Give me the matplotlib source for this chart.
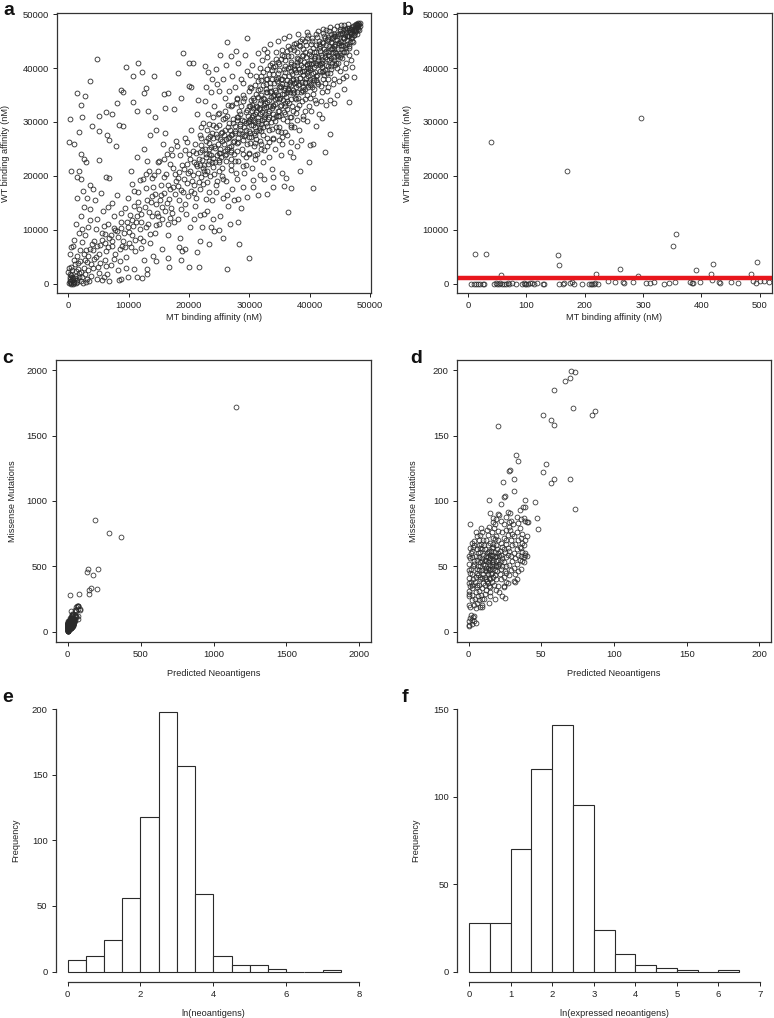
import matplotlib
matplotlib.use("Agg")
import matplotlib.pyplot as plt

plt.rcParams['font.family'] = ['Liberation Sans', 'DejaVu Sans']

# ---------------- data ----------------
# panel a: (MT, WT) binding affinity, in thousands of nM
points_a = [
    # outliers above diagonal
    (4.8,41.6),(3.5,37.6),(0.1,26.2),(0.3,30.6),(1.5,35.4),(2.0,33.1),(2.8,34.9),(2.3,31.0),(5.1,31.2),
    (3.9,29.3),(5.1,28.3),(1.8,28.2),(1.0,25.9),(2.1,24.1),(2.5,23.2),(2.9,22.5),(5.1,23.0),(0.4,20.9),
    (1.8,20.9),(1.4,19.8),(9.5,40.2),(11.6,41.0),(12.2,39.3),(10.7,38.5),(12.8,36.3),(12.5,35.4),(8.7,35.9),
    (9.1,35.5),(8.0,33.5),(6.3,31.8),(7.3,31.5),(8.4,29.5),(9.0,29.3),(6.4,27.5),(6.8,26.6),(7.9,25.6),
    (6.2,19.8),(6.7,19.7),(10.7,33.7),(11.4,32.0),(13.2,32.0),(14.4,31.0),(19.0,42.8),(20.0,41.0),(20.7,41.0),
    (18.1,39.0),(14.2,38.6),(15.9,35.2),(16.5,35.4),(18.7,34.4),(20.0,36.7),(20.4,36.4),(17.5,32.4),(16.0,32.6),
    (26.3,44.8),(29.6,45.6),(27.8,43.1),(25.1,42.5),(27.0,42.2),(32.9,43.0),(36.6,45.9),(38.1,46.4),(39.5,46.7),
    (22.6,40.4),(23.2,39.3),(24.4,39.9),
    # outliers below diagonal
    (30.0,4.8),(26.3,2.8),(20.0,3.1),(16.7,3.1),(18.7,4.4),(21.6,3.2),(36.4,13.4),(35.8,18.1),(37.0,17.8),
    (40.5,17.8),(42.6,24.4),(39.9,22.6),(43.4,27.8),(46.6,33.7),(47.4,38.3),(40.6,26.0),(40.0,25.7),(35.5,20.6),
    (34.0,19.8),(36.1,19.6),(31.8,20.1),(30.7,19.2),(28.2,11.5),(28.3,7.3),(24.1,9.8),(24.9,9.9),(25.7,8.5),
    (23.3,7.3),(21.8,8.0),(21.3,5.9),(19.3,6.5),(18.4,6.9),(14.6,4.3),(13.0,2.7),(13.1,1.8),(11.4,1.3),
    (9.8,1.3),(8.4,0.7),(5.9,1.3),(21.9,12.8),(26.3,16.4),(27.4,15.5),(28.2,15.8),(29.6,16.1),(32.9,16.7),
    (34.0,18.0),(38.4,21.0),(37.3,23.5),
    # near origin
    (0.1,0.1),(0.3,0.5),(0.5,0.2),(0.8,1.0),(1.0,0.3),(1.2,1.5),(0.2,1.8),(0.6,2.5),(1.5,0.8),(1.8,2.0),
    (0.4,3.2),(1.1,3.6),(2.0,0.5),(2.2,1.2),(0.9,4.5),(0.2,5.5),(1.6,2.8),(2.5,3.0),(0.3,0.9),(0.7,0.0),
    (1.3,0.1),(0.0,2.2),(2.8,1.8),(0.5,6.8),(1.9,4.2),(2.4,0.2),(3.0,0.9),(1.4,5.2),(0.8,7.0),(3.2,2.6),
    (0.2,0.3),(0.4,0.0),(0.6,0.7),(0.9,0.1),(1.1,1.1),(0.3,1.3),(0.5,1.6),(1.4,0.4),(1.7,1.2),(0.1,2.9),
    (0.6,1.2),(1.2,2.4),(1.6,3.9),(2.1,2.2),(2.7,4.4),(3.2,5.1),(3.7,3.6),(4.1,6.2),(4.7,7.0),(5.1,5.6),
    (5.6,8.2),(6.1,9.2),(6.6,6.9),(7.2,8.0),(7.7,9.9),(8.2,8.6),(8.7,10.4),(9.2,9.4),(9.7,11.4),(4.9,3.1),
    (6.3,3.3),(7.6,4.6),(8.9,7.1),(3.4,0.6),(4.7,0.9),(2.9,0.3),(1.9,6.2),(1.0,8.2),(2.3,10.2),(3.6,11.8),
    # 2-10k
    (2.5,5.5),(3.0,4.0),(3.5,6.5),(4.0,3.0),(4.2,8.0),(4.5,5.0),(5.0,2.0),(5.2,7.2),(5.5,9.5),(6.0,4.5),
    (6.2,6.0),(6.5,11.0),(6.8,8.5),(7.0,3.5),(7.3,7.0),(7.5,12.5),(7.8,5.5),(8.0,9.8),(8.3,2.5),(8.5,6.5),
    (8.8,11.5),(9.0,8.0),(9.3,14.0),(9.5,5.0),(9.8,10.5),(10.0,7.5),(10.2,12.8),(2.8,9.0),(3.3,10.5),(3.8,1.5),
    (4.8,12.0),(5.8,13.5),(6.4,1.8),(7.2,15.0),(8.1,16.5),(9.6,3.0),(3.6,13.8),(4.4,15.5),(5.4,16.8),(2.2,7.8),
    (1.7,9.5),(1.2,11.0),(2.0,12.5),(2.6,14.2),(1.5,15.9),(2.4,17.2),(3.1,16.0),(4.0,17.5),(3.5,18.3),(2.0,19.5),
    (5.5,0.8),(6.8,0.5),(8.8,0.9),(4.6,10.2),(5.9,10.8),(6.6,14.3),(7.6,10.3),(8.7,13.2),(9.9,16.0),(10.5,18.5),
    (2.9,6.3),(3.9,7.4),(4.3,4.6),(5.3,3.8),(6.1,7.6),(7.1,9.1),(8.6,4.2),(9.4,6.9),
    # 10-20k
    (10.5,9.0),(10.8,14.5),(11.0,6.0),(11.2,11.5),(11.5,17.0),(11.8,8.5),(12.0,13.0),(12.3,19.5),(12.5,4.5),
    (12.8,10.5),(13.0,15.5),(13.3,21.0),(13.5,7.5),(13.8,12.5),(14.0,18.0),(14.3,9.5),(14.5,14.8),(14.8,22.5),
    (15.0,11.0),(15.3,16.5),(15.5,6.5),(15.8,19.8),(16.0,13.5),(16.3,24.0),(16.5,9.0),(16.8,17.5),(17.0,14.0),
    (17.3,21.5),(17.5,11.5),(17.8,19.0),(18.0,25.5),(18.3,15.5),(18.5,8.5),(18.8,22.0),(19.0,17.0),(19.3,27.0),
    (19.5,13.0),(19.8,20.5),(20.0,24.0),(20.2,10.5),(10.3,21.0),(11.3,23.5),(12.6,25.0),(13.6,27.5),(14.6,28.5),
    (10.9,2.8),(12.2,1.0),(14.1,5.2),(16.6,4.8),(18.9,6.0),(11.6,15.2),(12.9,17.8),(14.2,20.2),(15.1,22.8),
    (16.2,20.3),(17.2,23.8),(18.1,18.2),(19.6,22.2),(13.2,11.0),(15.6,14.2),(16.9,12.2),(18.6,13.8),(19.9,16.2),
    (10.6,11.9),(11.9,10.2),(13.9,16.2),(15.4,18.4),(17.6,16.6),(19.2,19.4),(14.9,12.5),(12.4,8.0),(16.4,15.0),
    (18.4,20.8),(17.9,26.5),(19.4,24.8),(15.7,26.0),(16.1,28.0),(13.1,22.8),
    (10.1,9.6),(10.7,10.8),(11.4,12.6),(11.7,13.9),(12.1,11.4),(12.7,14.2),(13.4,13.4),(13.7,15.1),(14.4,16.6),
    (14.7,13.2),(15.2,15.6),(15.9,16.9),(16.5,18.4),(16.7,15.8),(17.4,17.9),(17.7,20.4),(18.2,19.6),(18.7,17.3),
    (19.1,21.3),(19.7,18.6),(10.4,6.8),(11.1,8.2),(12.1,6.6),(13.6,9.2),(14.5,10.9),(15.5,12.0),(16.6,11.0),
    (17.2,13.2),(18.2,12.1),(19.3,14.8),(10.8,17.2),(11.8,19.2),(12.9,20.4),(13.8,19.6),(14.9,21.0),(15.9,23.2),
    (17.0,25.0),(18.5,23.9),(19.7,26.2),(16.9,22.2),
    # 20-30k
    (20.5,19.0),(20.8,22.5),(21.0,26.0),(21.2,16.0),(21.5,20.5),(21.8,24.5),(22.0,29.0),(22.3,18.5),(22.5,22.0),
    (22.8,26.5),(23.0,13.5),(23.3,24.0),(23.5,20.0),(23.8,28.0),(24.0,31.0),(24.3,22.5),(24.5,17.0),(24.8,26.0),
    (25.0,29.5),(25.3,23.5),(25.5,20.0),(25.8,27.5),(26.0,32.0),(26.3,25.0),(26.5,14.5),(26.8,28.5),(27.0,22.0),
    (27.3,30.5),(27.5,26.5),(27.8,33.5),(28.0,19.5),(28.3,28.0),(28.5,31.5),(28.8,25.0),(29.0,35.0),(29.3,27.5),
    (29.5,22.0),(29.8,30.0),(30.0,33.0),(20.3,28.5),(21.4,31.5),(22.6,33.8),(23.6,35.5),(24.6,37.0),(25.6,38.0),
    (20.9,12.0),(22.1,10.5),(23.9,15.5),(25.2,12.5),(27.1,17.5),(28.9,18.0),(20.1,21.0),(20.7,24.6),(21.1,22.3),
    (21.7,18.8),(22.2,24.8),(22.7,20.4),(23.1,27.0),(23.4,22.8),(23.7,25.3),(24.1,20.3),(24.4,27.8),(24.9,24.2),
    (25.1,26.8),(25.4,21.5),(25.7,30.5),(26.1,22.8),(26.4,27.0),(26.6,29.8),(26.9,24.4),(27.2,27.8),(27.4,24.0),
    (27.7,29.2),(27.9,31.0),(28.2,26.2),(28.4,29.6),(28.7,33.0),(29.1,29.0),(29.4,31.8),(29.7,26.0),(29.9,28.3),
    (21.9,27.5),(22.4,29.9),(23.2,31.5),(24.2,33.0),(25.9,34.5),(26.7,35.8),(27.6,36.5),(28.6,38.0),(29.6,39.5),
    (20.4,17.2),(22.9,15.8),(24.7,19.0),(26.2,19.0),(28.1,22.8),(29.2,20.5),
    (20.6,20.2),(21.3,21.9),(21.6,23.1),(22.4,21.4),(22.9,23.6),(23.4,24.9),(23.8,22.6),(24.2,25.6),(24.6,23.9),
    (25.1,25.0),(25.5,26.4),(25.9,24.6),(26.2,26.9),(26.6,25.4),(27.0,27.6),(27.3,26.2),(27.7,28.4),(28.1,27.0),
    (28.4,29.2),(28.8,27.7),(29.1,30.1),(29.5,28.6),(29.8,31.2),(20.9,18.4),(22.0,25.8),(23.0,21.0),(24.0,27.0),
    (25.0,22.6),(26.0,28.6),(27.0,24.8),(28.0,30.4),(29.0,26.6),
    (21.5,34.0),(22.8,36.5),(23.9,37.9),(25.0,35.8),(26.2,40.5),(27.2,38.5),(28.2,41.0),(29.3,42.4),(27.9,34.5),
    (26.4,33.1),(24.8,31.4),(23.4,29.6),(29.0,37.2),(21.0,14.4),(22.5,13.0),(24.0,12.0),(25.6,16.0),(27.8,20.5),
    (29.4,23.5),(28.6,14.0),(26.8,11.0),(23.6,10.5),
    (22.2,22.9),(22.5,20.9),(22.8,24.1),(23.1,22.2),(23.4,26.1),(23.7,23.8),(24.0,21.7),(24.3,25.2),(24.6,27.3),
    (24.9,22.9),(25.2,24.3),(25.5,28.2),(25.8,25.9),(26.1,24.0),(26.4,29.1),(26.7,27.2),(27.0,25.6),(27.3,29.9),
    (27.6,27.9),(27.9,26.1),(28.2,30.9),(28.5,28.6),(28.8,30.3),(29.1,27.4),(29.4,29.8),(29.7,32.2),
    (22.0,27.0),(23.0,28.6),(24.0,29.4),(25.0,31.6),(26.0,30.8),(27.0,32.9),(28.0,34.2),(29.0,33.8),
    (22.0,19.8),(23.0,18.8),(24.0,23.3),(25.0,21.0),(26.0,23.9),(27.0,23.2),(28.0,24.6),(29.0,24.1),
    (20.2,23.2),(21.2,24.2),(21.8,22.0),(22.7,25.0),(23.5,27.4),(24.5,29.1),(25.3,27.9),(26.3,31.1),(27.2,33.2),
    (28.3,32.0),(29.2,34.4),(20.8,16.8),(21.9,17.6),(23.3,17.0),(24.4,18.3),(25.7,19.4),(26.9,21.1),(27.6,22.7),
    (28.9,21.8),(29.9,24.1),
    # 30-40k
    (30.2,28.0),(30.4,31.0),(30.6,34.5),(30.8,25.5),(31.0,30.0),(31.2,33.0),(31.4,36.0),(31.6,28.5),(31.8,31.5),
    (32.0,35.0),(32.2,22.5),(32.4,30.5),(32.6,33.5),(32.8,37.0),(33.0,27.0),(33.2,32.0),(33.4,35.5),(33.6,30.0),
    (33.8,38.0),(34.0,33.0),(34.2,36.0),(34.4,29.0),(34.6,34.5),(34.8,39.0),(35.0,32.0),(35.2,36.5),(35.4,26.0),
    (35.6,34.0),(35.8,38.5),(36.0,31.5),(36.2,35.5),(36.4,40.0),(36.6,33.5),(36.8,37.5),(37.0,29.5),(37.2,36.0),
    (37.4,40.5),(37.6,34.5),(37.8,38.0),(38.0,32.5),(38.2,37.0),(38.4,41.5),(38.6,35.5),(38.8,39.5),(39.0,30.5),
    (39.2,37.5),(39.4,42.0),(39.6,35.0),(39.8,40.0),(40.0,38.0),(30.1,36.5),(30.5,21.5),(31.1,38.5),(31.7,40.0),
    (32.1,41.5),(32.9,42.0),(33.7,41.0),(34.5,43.0),(35.5,42.5),(36.5,44.0),(37.5,44.5),(38.5,45.0),(39.5,45.5),
    (31.3,24.0),(33.3,23.5),(34.3,25.0),(36.3,27.5),(38.3,28.5),(39.3,32.0),(30.3,29.5),(30.7,32.5),(30.9,27.5),
    (31.5,31.0),(31.9,34.0),(32.3,29.0),(32.5,32.5),(32.7,35.5),(33.1,30.5),(33.5,33.0),(33.9,31.5),(34.1,35.0),
    (34.7,32.0),(34.9,36.5),(35.1,34.5),(35.3,38.0),(35.7,36.0),(35.9,33.0),(36.1,37.0),(36.7,35.5),(36.9,39.5),
    (37.1,33.0),(37.3,38.0),(37.7,36.5),(37.9,40.5),(38.1,34.5),(38.7,37.5),(38.9,36.5),(39.1,39.5),(39.7,38.5),
    (39.9,41.0),(30.4,33.2),(31.4,29.8),(32.4,34.2),(33.4,37.2),(34.4,31.2),(35.4,35.2),(36.4,36.2),(37.4,37.2),
    (38.4,39.2),(39.4,38.2),(30.6,30.4),(31.6,32.6),(32.6,31.4),(33.6,34.6),(34.6,37.6),(35.6,30.6),(36.6,38.6),
    (37.6,39.6),(38.6,40.6),(39.6,40.6),(31.8,26.4),(33.2,28.6),(34.8,28.4),(36.2,30.2),(37.8,31.6),(39.2,34.2),
    (30.0,24.2),(32.0,26.0),(35.0,29.0),(37.0,31.0),(38.0,43.0),(36.0,41.5),(34.0,40.2),(32.0,38.6),(33.0,39.8),
    (35.0,40.8),(37.0,42.2),(39.0,43.6),
    (30.1,30.6),(30.3,27.2),(30.5,32.1),(30.7,29.4),(30.9,31.4),(31.1,28.3),(31.3,32.8),(31.5,30.2),(31.7,33.6),
    (31.9,29.6),(32.1,31.9),(32.3,34.5),(32.5,30.9),(32.7,32.8),(32.9,35.6),(33.1,31.7),(33.3,34.1),(33.5,36.4),
    (33.7,32.6),(33.9,34.9),(34.1,37.2),(34.3,33.4),(34.5,35.6),(34.7,38.1),(34.9,34.3),(35.1,36.6),(35.3,33.1),
    (35.5,37.9),(35.7,35.1),(35.9,39.2),(36.1,34.6),(36.3,37.8),(36.5,35.9),(36.7,40.1),(36.9,36.8),(37.1,38.9),
    (37.3,35.4),(37.5,39.8),(37.7,37.4),(37.9,41.2),(38.1,36.9),(38.3,39.9),(38.5,38.1),(38.7,42.2),(38.9,38.8),
    (39.1,41.1),(39.3,37.3),(39.5,40.8),(39.7,39.4),(39.9,42.6),
    (30.2,32.9),(30.8,34.1),(31.2,35.1),(31.8,36.1),(32.2,36.9),(32.8,38.0),(33.2,38.9),(33.8,39.6),(34.2,40.3),
    (34.8,41.2),(35.2,41.6),(35.8,42.3),(36.2,43.1),(36.8,43.6),(37.2,43.9),(37.8,44.6),(38.2,44.2),(38.8,45.3),
    (39.2,45.1),(39.8,46.1),
    (30.2,26.1),(30.8,27.9),(31.2,26.8),(31.8,28.9),(32.2,27.6),(32.8,29.9),(33.2,26.3),(33.8,28.7),(34.2,30.1),
    (34.8,31.1),(35.2,28.2),(35.8,31.9),(36.2,32.4),(36.8,30.9),(37.2,32.1),(37.8,34.2),(38.2,33.2),(38.8,33.9),
    (39.2,36.1),(39.8,36.4),(31.0,23.2),(32.5,24.8),(34.0,26.9),(35.5,27.3),(37.5,29.1),(39.5,30.2),(36.9,26.2),
    (38.6,26.7),(30.5,40.6),(31.5,42.8),(32.5,43.5),(33.5,44.4),(34.7,45.1),(35.8,45.5),(30.2,38.8),
    (30.6,18.0),(32.5,19.5),(33.8,21.2),(35.2,23.8),(36.8,24.4),(38.0,25.6),(31.5,16.5),
    (30.0,30.1),(30.3,34.0),(30.6,31.3),(30.9,29.0),(31.2,31.8),(31.5,34.6),(31.8,32.4),(32.1,30.3),(32.4,33.1),
    (32.7,36.1),(33.0,33.7),(33.3,30.9),(33.6,35.8),(33.9,33.1),(34.2,34.3),(34.5,37.9),(34.8,35.0),(35.1,32.9),
    (35.4,37.1),(35.7,39.9),(36.0,36.3),(36.3,33.8),(36.6,37.0),(36.9,40.8),(37.2,37.7),(37.5,35.6),(37.8,39.2),
    (38.1,41.7),(38.4,38.1),(38.7,35.9),(39.0,40.1),(39.3,42.9),(39.6,39.0),(39.9,37.4),
    (30.0,35.7),(31.0,36.9),(32.0,37.7),(33.0,38.0),(34.0,38.9),(35.0,39.6),(36.0,40.4),(37.0,41.2),(38.0,41.8),
    (39.0,42.4),(30.0,27.2),(31.0,26.1),(32.0,28.3),(33.0,29.3),(34.0,30.7),(35.0,31.2),(36.0,33.6),(37.0,34.3),
    (38.0,35.6),(39.0,35.8),(30.3,36.3),(31.4,37.6),(32.3,39.2),(33.4,40.6),(34.4,41.7),(35.4,43.4),(36.4,42.3),
    (37.4,43.3),(38.4,44.1),(39.4,44.2),(30.9,23.9),(31.9,25.0),(32.9,25.6),(33.9,27.1),(34.9,26.6),(35.9,28.1),
    (36.9,29.0),(37.9,30.3),(38.9,31.1),(39.9,33.0),
    # 40-48.5k
    (40.2,41.5),(40.4,36.5),(40.6,39.0),(40.8,43.0),(41.0,40.5),(41.2,37.5),(41.4,42.0),(41.6,44.5),(41.8,39.5),
    (42.0,41.5),(42.2,38.0),(42.4,43.5),(42.6,45.5),(42.8,40.5),(43.0,42.5),(43.2,44.0),(43.4,39.0),(43.6,43.5),
    (43.8,45.5),(44.0,42.0),(44.2,44.5),(44.4,41.0),(44.6,46.0),(44.8,43.5),(45.0,45.0),(45.2,42.5),(45.4,46.5),
    (45.6,44.0),(45.8,45.5),(46.0,47.0),(46.2,44.5),(46.4,46.0),(46.6,47.5),(46.8,45.5),(47.0,46.8),(47.2,47.8),
    (47.4,46.2),(47.6,47.5),(47.8,48.0),(48.0,47.3),(48.2,48.2),(48.3,47.8),(40.1,34.5),(41.1,33.5),(42.1,35.5),
    (43.1,36.5),(44.1,38.0),(45.1,39.5),(46.1,41.0),(40.3,44.5),(41.3,45.8),(42.3,46.5),(43.3,46.8),(40.5,41.0),
    (40.7,37.8),(40.9,42.2),(41.5,40.8),(41.7,43.2),(41.9,41.0),(42.5,42.0),(42.7,44.2),(42.9,39.0),(43.5,41.8),
    (43.7,44.6),(43.9,43.0),(44.3,43.0),(44.5,45.2),(44.7,42.2),(45.3,44.2),(45.5,45.8),(45.7,43.0),(45.9,46.2),
    (46.3,45.2),(46.5,43.8),(46.7,46.6),(46.9,47.2),(47.1,45.8),(47.3,47.0),(47.5,46.6),(47.7,48.2),(47.9,47.6),
    (40.0,40.0),(41.0,41.0),(42.0,42.0),(43.0,43.0),(44.0,44.0),(40.6,35.2),(42.6,37.2),(44.6,40.0),(46.6,42.5),
    (43.4,34.0),(45.6,38.2),
    (40.1,39.6),(40.3,42.3),(40.5,38.2),(40.7,41.8),(40.9,39.2),(41.1,42.9),(41.3,38.8),(41.5,43.8),(41.7,40.6),
    (41.9,42.5),(42.1,40.1),(42.3,44.6),(42.5,39.7),(42.7,43.1),(42.9,41.6),(43.1,45.3),(43.3,42.2),(43.5,44.9),
    (43.7,41.0),(43.9,45.8),(44.1,43.5),(44.3,45.9),(44.5,42.4),(44.7,46.4),(44.9,44.6),(45.1,46.8),(45.3,43.6),
    (45.5,47.1),(45.7,45.6),(45.9,44.3),(46.1,46.6),(46.3,47.4),(46.5,45.9),(46.7,44.9),(46.9,46.4),(47.1,47.6),
    (47.3,46.2),(47.5,47.9),(47.7,47.0),(47.9,48.1),(48.1,47.6),(48.2,47.1),(48.3,48.3),(48.1,48.4),
    (40.2,37.0),(40.8,36.2),(41.4,37.0),(41.9,36.6),(42.4,38.8),(43.0,38.0),(43.6,39.8),(44.2,40.5),(44.8,41.0),
    (45.4,41.8),(46.0,42.9),(46.6,44.1),(47.2,44.9),(47.8,46.3),(40.4,45.6),(41.0,46.3),(41.6,45.1),(42.2,47.2),
    (42.8,47.0),(43.4,47.6),(44.0,47.2),(44.6,47.8),(45.2,47.9),(45.8,48.0),(46.4,48.1),
    (40.2,32.0),(41.5,31.5),(42.8,33.2),(44.5,35.0),(45.8,36.2),(47.0,40.2),(46.0,38.5),(44.0,33.6),(42.0,30.8),
    (41.0,29.2),
    (40.2,40.7),(40.5,43.7),(40.8,40.1),(41.1,38.6),(41.4,41.4),(41.7,44.0),(42.0,40.9),(42.3,39.4),(42.6,42.9),
    (42.9,45.2),(43.2,41.5),(43.5,40.4),(43.8,43.7),(44.1,46.0),(44.4,42.7),(44.7,44.7),(45.0,46.3),(45.3,44.9),
    (45.6,42.9),(45.9,47.3),(46.2,45.9),(46.5,47.1),(46.8,46.3),(47.1,47.2),(47.4,47.3),(47.7,46.8),(48.0,48.0),
    (40.0,43.1),(41.0,44.2),(42.0,44.9),(43.0,45.8),(44.0,46.3),(45.0,47.2),(40.0,36.9),(41.0,37.8),(42.0,39.2),
    (43.0,40.3),(44.0,41.5),(45.0,42.0),(46.0,43.9),(47.0,45.1),(40.4,45.0),(41.4,46.9),(42.4,45.9),(43.6,46.3),
    (40.9,34.1),(41.9,33.9),(42.9,35.8),(43.9,37.0),(44.9,37.6),(45.9,40.0),(46.9,41.5),(47.7,43.0),
]

# panel b: MT < 500 nM subset
mt_b = [5, 10, 13, 17, 20, 25, 27, 12.5, 30, 39, 45, 48, 50, 53, 55, 57, 58, 62, 65, 68, 70, 75, 82, 92,
        95, 97, 100, 103, 106, 110, 113, 118, 128, 130, 154, 156, 155, 162, 165, 170, 175, 178, 182, 196,
        207, 211, 213, 215, 218, 220, 222, 240, 252, 260, 265, 268, 283, 292, 296, 305, 312, 318, 336, 344,
        351, 354, 356, 380, 384, 386, 390, 398, 416, 418, 420, 430, 432, 450, 462, 485, 488, 494, 495, 500,
        508, 516]
wt_b = [0, 0, 0, 0, 0, 0, 0, 5600, 5600, 26200, 0, 100, 0, 50, 100, 1600, 0, 0, 50, 100, 0, 150, 0, 0,
        100, 0, 50, 0, 100, 200, 0, 150, 0, 50, 5400, 3500, 0, 0, 100, 20900, 200, 300, 0, 0,
        0, 0, 50, 0, 100, 1850, 0, 500, 400, 2800, 300, 200, 300, 1500, 30700, 100, 200, 300, 0, 200,
        7000, 300, 9300, 400, 100, 200, 2500, 300, 1800, 700, 3600, 300, 100, 300, 200, 1800, 500, 100, 4000, 600,
        500, 300]
threshold_b = 1000

# panels c/d: (predicted neoantigens, missense mutations) per tumour
points_cd = [
    (70.7,199.2),(69.8,193.9),(58.8,184.9),(71.8,170.9),(86.9,169.1),(51.5,166.0),(56.8,162.2),(20.1,157.1),
    (32.6,134.9),(34.2,131.0),(52.9,128.0),(51.5,122.1),(28.5,123.6),(28.1,122.9),(58.8,117.2),(56.8,113.9),
    (69.8,117.0),(73.0,94.0),(31.0,117.0),(23.9,114.2),(31.2,107.3),(25.1,104.0),(24.2,103.2),(13.9,101.1),
    (22.1,97.5),(45.5,99.1),(47.0,87.1),(47.9,78.9),(38.8,101.1),(38.5,95.3),(37.6,95.3),(40.6,84.0),
    (26.9,91.2),(0.9,82.2),(22.8,27.3),(24.6,35.0),(5.0,6.9),(0,4.3),
    (0,5),(0.5,8),(1,10),(1.5,13),(2,6),(2.5,9),(3,11),(3.5,8),(4,12),(0.5,20),(1,19),(0,27),(0.5,31),(1,35),
    (0,37),(1.5,38),(0.5,41),(1,45),(0,47),(1.5,48),(0.5,52),(1,56),(0,58),(1.5,60),(2,62),(1,64),(0.5,29),
    (2,24),(2.5,28),(2,33),(2.5,36),(3,40),(2.5,44),(3,50),(3.5,54),(2.5,57),(3,65),(2,68),(3.5,66),(4,69),
    (4,20),(4.5,25),(5,18),(5,30),(5.5,34),(4.5,38),(5,42),(6,45),(5.5,48),(4,52),(6,55),(5,58),(6.5,60),
    (5.5,63),(6,22),(6.5,27),(7,31),(7,36),(7.5,40),(6.5,43),(7,47),(8,50),(7.5,53),(7,57),(8,61),(7.5,64),
    (8.5,67),(7,70),(8,74),(9,76),(8.5,79),(9,20),(9.5,25),(8.5,28),(9,33),(10,37),(9.5,41),(10,44),(9,47),
    (10,52),(9.5,56),(10,59),(9,63),(10.5,66),(10,70),(6,73),(5,76),(9,19),(8,19),(7,24),(6,36),(8,42),
    (9,54),(7,66),(6.5,50),
    (10.5,25),(11,29),(12,32),(11,36),(12.5,39),(11.5,42),(12,46),(13,49),(11,51),(12,54),(13.5,57),(12.5,60),
    (11.5,63),(13,66),(12,70),(13,74),(12.5,78),(14,80),(14,22),(15,27),(14.5,30),(15,34),(16,38),(14,41),
    (15.5,44),(16,48),(14.5,51),(16,53),(15,56),(17,59),(15.5,62),(16.5,65),(15,68),(17,72),(16,76),(17.5,79),
    (16.5,84),(17,87),(15,91),(18,25),(18.5,32),(17.5,36),(19,40),(18,43),(19.5,46),(18.5,50),(19,54),(18,57),
    (20,60),(19.5,63),(18.5,66),(20,70),(19,73),(20.5,77),(18,82),(19,86),(20,90),(21,89),(13,44),(14,47),
    (12,58),(17,52),(16,45),(13,53),(18,61),(15,59),(11,47),(14,62),(17,55),(16,50),(19,58),(12,40),(20,50),
    (13,37),(17,42),(15,48),(18,47),(14,55),(16,58),(19,51),(11,55),(12,49),(13,61),(14,35),(15,40),(16,64),
    (17,67),(18,71),(20,55),
    (21,30),(20.5,35),(22,40),(21.5,44),(22,48),(21,52),(23,56),(22,59),(21.5,62),(23,65),(22.5,68),(24,72),
    (23,76),(24.5,82),(22,85),(25,26),(24,34),(25.5,38),(24,42),(25,46),(26,50),(24.5,53),(26,57),(25,61),
    (27,64),(26,67),(25.5,70),(27,74),(26,78),(28,80),(27.5,84),(26,88),(28.5,91),(27,37),(28,43),(29,47),
    (28,51),(30,54),(29,58),(28,62),(30,66),(29,70),(30,75),(28.5,78),(30.5,82),(29,85),(27,59),(23,50),
    (21,58),(24,63),(26,45),(22,54),
    (31,39),(32,44),(31,49),(33,52),(32,56),(31,60),(33,63),(32,67),(34,70),(31,73),(33,76),(35,79),(34,83),
    (33,88),(36,86),(35,93),(34,59),(35,55),(36,58),(37,61),(36,64),(38,57),(39,60),(37,54),(38,53),(39,59),
    (40,58),(38,66),(39,70),(40,73),(37,75),(38,87),(39,85),(40,84),(36,48),(34,46),(35,65),(36,72),(33,40),
    (32,38),(37,68),
    # large values, only visible in panel c
    (1153,1719),(185,858),(281,756),(364,725),(142,478),(133,455),(206,478),(172,437),(144,319),(162,332),
    (201,327),(144,286),(18,278),(78,286),(66,192),(73,199),(85,166),(59,158),
]

# panels e/f: histogram counts (bin width 0.5)
bins_e = [0, 0.5, 1, 1.5, 2, 2.5, 3, 3.5, 4, 4.5, 5, 5.5, 6, 6.5, 7]
counts_e = [9, 12, 24, 56, 118, 198, 157, 59, 12, 5, 5, 2, 0, 0, 1]
bins_f = [0, 0.5, 1, 1.5, 2, 2.5, 3, 3.5, 4, 4.5, 5, 5.5, 6]
counts_f = [28, 28, 70, 116, 141, 95, 24, 10, 4, 2, 1, 0, 1]

# ---------------- figure ----------------
W, H = 774, 1018
fig = plt.figure(figsize=(W / 100, H / 100), dpi=100)
TXT = '#222222'
FS_T = 6.8
FS_L = 6.6


def add_ax(l, r, t, b):
    return fig.add_axes([l / W, 1 - b / H, (r - l) / W, (b - t) / H])


def style(ax):
    ax.tick_params(direction='out', length=3, width=0.7, labelsize=FS_T, colors=TXT, pad=3)
    for s in ax.spines.values():
        s.set_linewidth(0.9)
        s.set_color('#333333')


def labels(ax, xl, yl, xy, yx):
    ax.set_xlabel(xl, fontsize=FS_L, color=TXT)
    ax.set_ylabel(yl, fontsize=FS_L, color=TXT)
    ax.xaxis.set_label_coords(0.5, xy)
    ax.yaxis.set_label_coords(yx, 0.5)


def scatter(ax, x, y, mew=0.55):
    ax.plot(x, y, 'o', mfc='none', mec='#2a2a2a', ms=3.5, mew=mew, linestyle='none')


# panel a
ax = add_ax(57, 371, 13, 293)
xa = [p[0] * 1000 for p in points_a]
ya = [p[1] * 1000 for p in points_a]
scatter(ax, xa, ya, mew=0.6)
ax.set_xlim(-1900, 50200)
ax.set_ylim(-1700, 50200)
ax.set_xticks(range(0, 50001, 10000))
ax.set_yticks(range(0, 50001, 10000))
style(ax)
labels(ax, 'MT binding affinity (nM)', 'WT binding affinity (nM)', -0.070, -0.150)

# panel b
ax = add_ax(457, 772, 13, 293)
scatter(ax, mt_b, wt_b)
ax.axhline(threshold_b, color='#e8161c', lw=3.2)
ax.set_xlim(-19, 521)
ax.set_ylim(-1700, 50200)
ax.set_xticks(range(0, 501, 100))
ax.set_yticks(range(0, 50001, 10000))
style(ax)
labels(ax, 'MT binding affinity (nM)', 'WT binding affinity (nM)', -0.070, -0.144)

xc = [p[0] for p in points_cd]
yc = [p[1] for p in points_cd]

# panel c
ax = add_ax(56, 371, 360, 642)
scatter(ax, xc, yc)
ax.set_xlim(-80, 2080)
ax.set_ylim(-80, 2080)
ax.set_xticks(range(0, 2001, 500))
ax.set_yticks(range(0, 2001, 500))
style(ax)
labels(ax, 'Predicted Neoantigens', 'Missense Mutations', -0.0975, -0.125)

# panel d
ax = add_ax(457, 771, 360, 642)
scatter(ax, xc, yc)
ax.set_xlim(-8, 208)
ax.set_ylim(-8, 208)
ax.set_xticks(range(0, 201, 50))
ax.set_yticks(range(0, 201, 50))
style(ax)
labels(ax, 'Predicted Neoantigens', 'Missense Mutations', -0.0975, -0.123)


def hist(ax, bins, counts, xmax, xstep, ymax, ystep, xlabel, ylx):
    ax.bar(bins, counts, width=0.5, align='edge', facecolor='white', edgecolor='#2a2a2a', linewidth=0.8)
    ax.set_xlim(-0.04 * xmax, 1.04 * xmax)
    ax.set_ylim(-0.04 * ymax, 1.04 * ymax)
    ax.set_xticks(range(0, xmax + 1, xstep))
    ax.set_yticks(range(0, ymax + 1, ystep))
    style(ax)
    ax.spines['top'].set_visible(False)
    ax.spines['right'].set_visible(False)
    ax.spines['left'].set_bounds(0, ymax)
    ax.spines['bottom'].set_bounds(0, xmax)
    labels(ax, xlabel, 'Frequency', -0.097, ylx)


ax = add_ax(56, 370.6, 698.6, 982)
hist(ax, bins_e, counts_e, 8, 2, 200, 50, 'ln(neoantigens)', -0.113)

ax = add_ax(457.4, 771.6, 698.6, 982)
hist(ax, bins_f, counts_f, 7, 1, 150, 50, 'ln(expressed neoantigens)', -0.118)

# panel letters
for letter, (px, py) in zip('abcdef', [(3, 15), (402, 15), (2, 363), (410, 363), (2, 702), (402, 702)]):
    fig.text(px / W, 1 - py / H, letter, fontsize=14, fontweight='bold', color='#111111',
             ha='left', va='baseline')

fig.savefig('out.png', dpi=100)
